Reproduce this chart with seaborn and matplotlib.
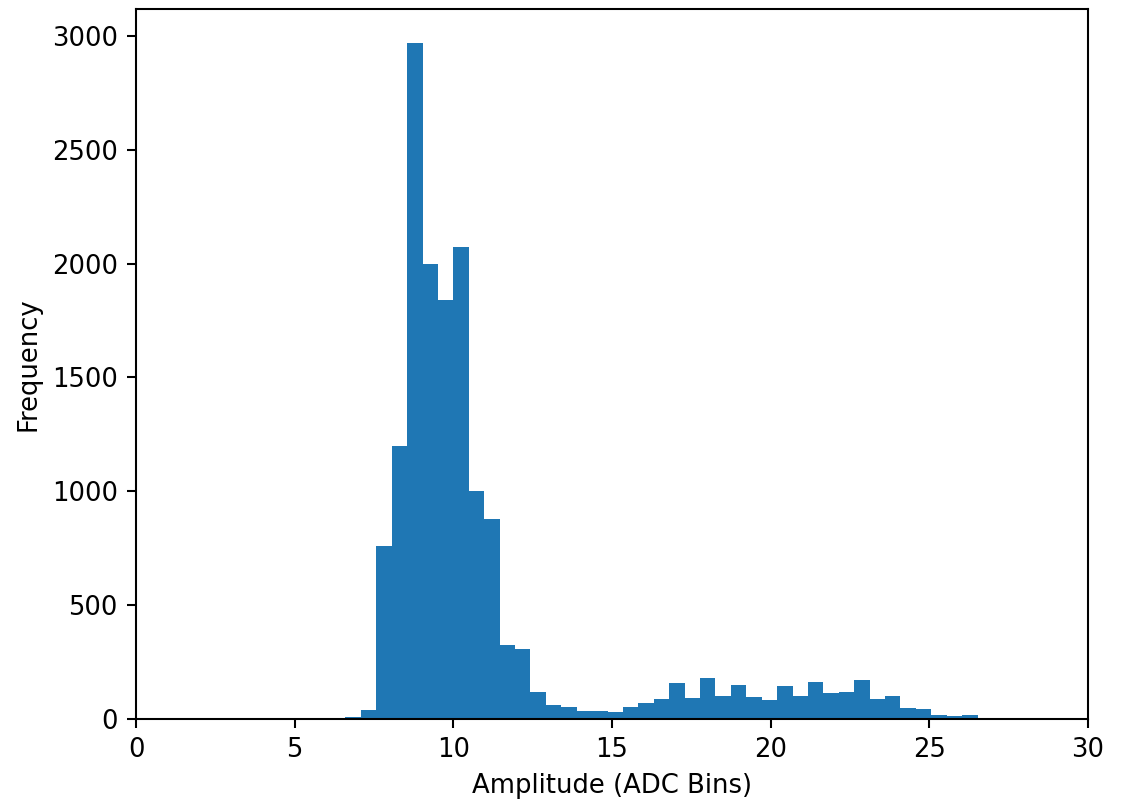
"""Amplitude histogram (ADC bins) recreated with seaborn."""

import matplotlib

matplotlib.use("Agg")
import matplotlib.pyplot as plt
import numpy as np
import pandas as pd
import seaborn as sns

# histogram: 41 equal bins from ~6.60 to ~26.52
bin_first_edge = 6.60
bin_last_edge = 26.52
counts = [
    10, 40, 758, 1201, 2970, 2000, 1840, 2075, 1000, 880,
    325, 308, 117, 60, 53, 34, 36, 30, 54, 70,
    86, 156, 92, 180, 101, 149, 95, 83, 145, 101,
    162, 113, 120, 170, 89, 101, 48, 42, 19, 12,
    16,
]
x_ticks = [0, 5, 10, 15, 20, 25, 30]
y_ticks = [0, 500, 1000, 1500, 2000, 2500, 3000]

n_bins = len(counts)
edges = np.linspace(bin_first_edge, bin_last_edge, n_bins + 1)
df = pd.DataFrame({"amplitude": (edges[:-1] + edges[1:]) / 2, "count": counts})

DPI = 186
plt.rcParams["font.family"] = ["DejaVu Sans"]
fig = plt.figure(figsize=(1122 / DPI, 799 / DPI), dpi=DPI)
ax = fig.add_axes([136 / 1122, 1 - 719 / 799, 952 / 1122, 710 / 799])

sns.histplot(
    data=df,
    x="amplitude",
    weights="count",
    bins=n_bins,
    binrange=(bin_first_edge, bin_last_edge),
    color="#1f77b4",
    alpha=1.0,
    linewidth=0,
    ax=ax,
)

ax.set_xlim(0, 30)
ax.set_ylim(0, max(counts) * 1.05)
ax.set_xticks(x_ticks)
ax.set_yticks(y_ticks)
ax.set_xlabel("Amplitude (ADC Bins)")
ax.set_ylabel("Frequency")

fig.savefig("out.png", dpi=DPI)
plt.close(fig)
